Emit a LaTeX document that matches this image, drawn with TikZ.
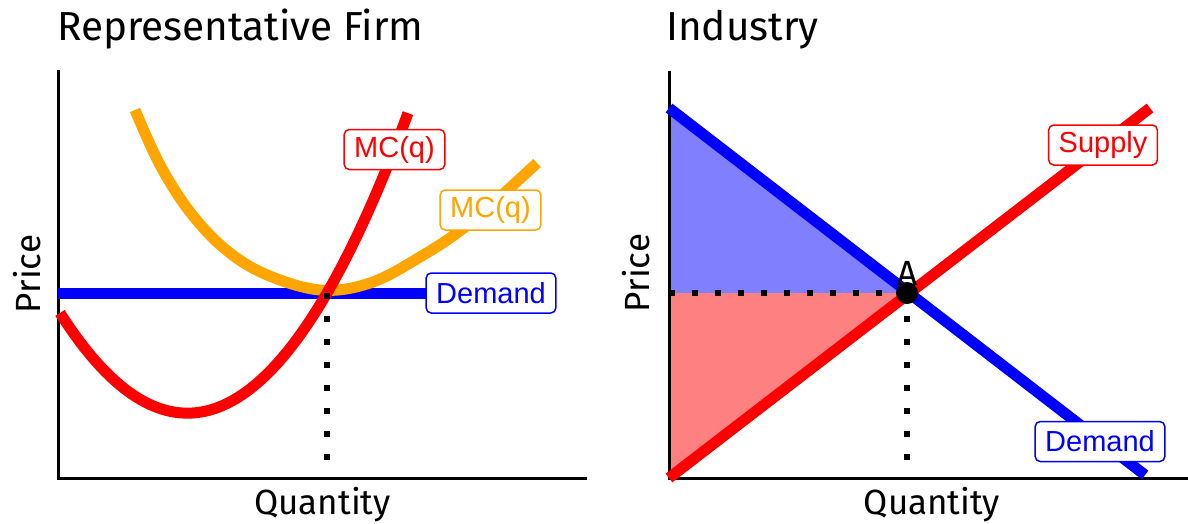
\documentclass[tikz,border=0pt]{standalone}
\usepackage{fontspec}
\setmainfont{Fira Sans}
\newfontfamily\labfont{Liberation Sans}
\definecolor{acorange}{RGB}{255,165,0}
\definecolor{cspurple}{RGB}{128,128,255}
\definecolor{pspink}{RGB}{255,128,128}
\tikzset{
  axisline/.style={line width=3pt, line cap=rect},
  curveline/.style={line width=11pt},
  dotline/.style={line width=6pt, dash pattern=on 6pt off 17pt},
  lbl/.style={draw=#1, text=#1, rounded corners=5pt, fill=white, line width=1.5pt,
    font=\labfont\fontsize{29}{29}\selectfont, inner xsep=10pt, inner ysep=0pt,
    minimum height=40pt},
  titletext/.style={font=\fontsize{40.5}{40.5}\selectfont, anchor=base west, inner sep=0pt},
  axtext/.style={font=\fontsize{35}{35}\selectfont, inner sep=0pt}
}
\begin{document}
\begin{tikzpicture}[x=1pt,y=-1pt]
\useasboundingbox (0,0) rectangle (1188,523);
% ---------- Left panel ----------
\node[titletext] (t1) at (57,40) {Representative Firm};
\draw[axisline] (58,71) |- (585,478);
\node[axtext, rotate=90] (p1) at (27.5,274) {Price};
\node[axtext, anchor=base] (q1) at (322.5,514) {Quantity};
\coordinate (d1s) at (58,293);
\coordinate (d1e) at (491,293);
\draw[curveline, blue] (d1s) -- (d1e);
\draw[curveline, acorange] plot[smooth, tension=0.6] coordinates {(135,110) (160,165) (190,212) (225,249) (265,274) (320,290) (370,283) (420,257) (470,223) (537,163)};
\draw[curveline, red] plot[domain=0.6:4.08, samples=70, variable=\t] ({100*\t},{-61.7*\t*\t+231.3*\t+196.4});
\coordinate (e1) at (327,293);
\coordinate (e1b) at (327,478);
\draw[dotline] (e1) -- (e1b);
\node[lbl=red] (mc) at (394.5,149.5) {MC(q)};
\node[lbl=acorange] (ac) at (490.5,210) {MC(q)};
\node[lbl=blue] (dem1) at (491,293) {Demand};
% ---------- Right panel ----------
\node[titletext] (t2) at (666,40) {Industry};
\coordinate (o2) at (669,478);
\coordinate (dtop) at (669,108);
\coordinate (eq) at (907,293);
\coordinate (peq) at (669,293);
\coordinate (qeq) at (907,478);
\coordinate (dend) at (1145,475);
\coordinate (send) at (1150,108);
\fill[cspurple] (dtop) -- (eq) -- (peq) -- cycle;
\fill[pspink] (peq) -- (eq) -- (o2) -- cycle;
\draw[axisline] (669,72) |- (1188,478);
\node[axtext, rotate=90] (p2) at (636,273) {Price};
\node[axtext, anchor=base] (q2) at (932,514) {Quantity};
\draw[dotline] (peq) -- (eq);
\draw[dotline] (eq) -- (qeq);
\draw[curveline, blue] (dtop) -- (dend);
\draw[curveline, red] (o2) -- (send);
\fill (eq) circle (11pt);
\node[axtext, anchor=base] (A) at (908,285) {A};
\node[lbl=red] (sup) at (1103,145) {Supply};
\node[lbl=blue] (dem2) at (1100,441.5) {Demand};
\end{tikzpicture}
\end{document}
